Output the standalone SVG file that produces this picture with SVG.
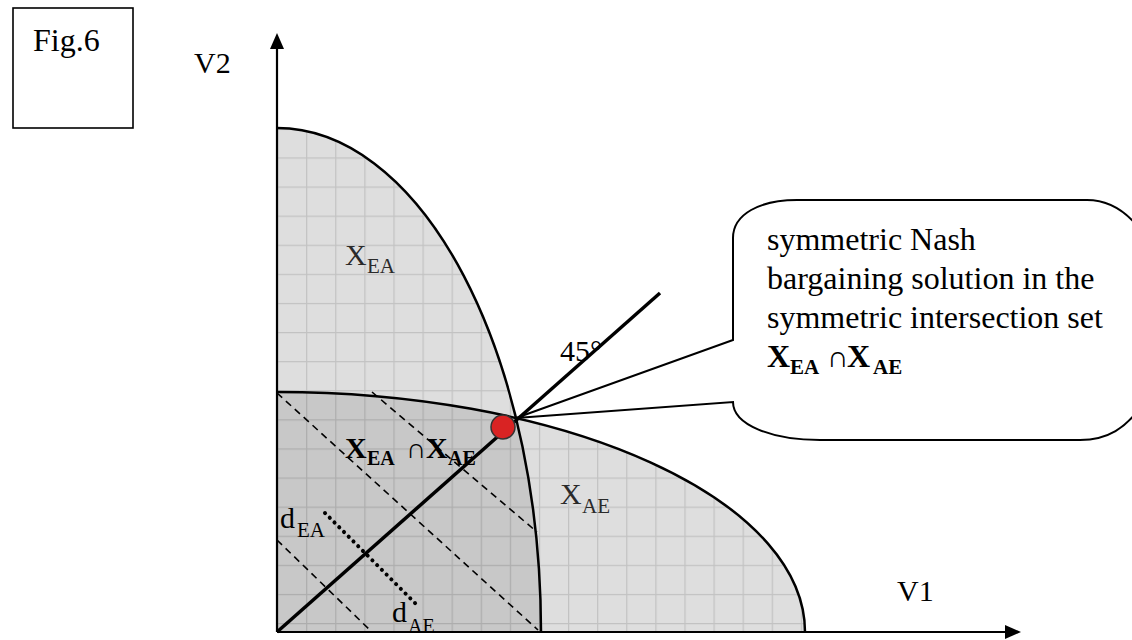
<svg xmlns="http://www.w3.org/2000/svg" width="1132" height="640" viewBox="0 0 1132 640">
<style>
.t{font-family:"Liberation Serif","Times New Roman",serif;fill:#000}
.b{font-weight:bold}
.g{fill:#2a2a2a}
.curve{fill:none;stroke:#000;stroke-width:2.5}
.dash{fill:none;stroke:#000;stroke-width:1.6;stroke-dasharray:7 5}
.dot{fill:none;stroke:#000;stroke-width:4;stroke-linecap:round;stroke-dasharray:0.1 6.6}
.ax{fill:none;stroke:#000;stroke-width:2.2}
</style>
<defs>
<pattern id="gridL" patternUnits="userSpaceOnUse" x="277" y="128.3" width="29.1" height="29.1">
<rect width="29.1" height="29.1" fill="#dedede"/>
<path d="M0,0.6 H29.1 M0.6,0 V29.1" stroke="#c2c2c2" stroke-width="1.2"/>
</pattern>
<pattern id="gridD" patternUnits="userSpaceOnUse" x="277" y="128.3" width="29.1" height="29.1">
<rect width="29.1" height="29.1" fill="#c8c8c8"/>
<path d="M0,0.6 H29.1 M0.6,0 V29.1" stroke="#adadad" stroke-width="1.2"/>
</pattern>
</defs>
<rect width="1132" height="640" fill="#fff"/>

<g id="fig-label">
<rect x="13" y="8" width="120" height="120" fill="#fff" stroke="#000" stroke-width="1.6"/>
<text class="t" x="33" y="51" font-size="32">Fig.6</text>
</g>

<g id="set-XEA">
<path d="M277,632 L277,128 A264,504 0 0 1 541,632 Z" fill="url(#gridL)"/>
</g>
<g id="set-XAE">
<path d="M277,632 L277,392 A528,240 0 0 1 805,632 Z" fill="url(#gridL)"/>
</g>
<g id="set-intersection">
<path d="M277,632 L277,392 A528,240 0 0 1 516,418 A264,504 0 0 1 541,632 Z" fill="url(#gridD)"/>
</g>

<g id="connectors">
<path class="curve" d="M277,128 A264,504 0 0 1 541,632"/>
<path class="curve" d="M277,392 A528,240 0 0 1 805,632"/>
<path class="dash" d="M372,392 L537,532"/>
<path class="dash" d="M277,393 L538,630"/>
<path class="dash" d="M277,540 L372,632"/>
<path class="dot" d="M325,513 L417,605"/>
<path d="M277,632 L660,293" fill="none" stroke="#000" stroke-width="3.5"/>
<path class="ax" d="M277,632 V46"/>
<path d="M277,33 L270,49 L284,49 Z" fill="#000"/>
<path class="ax" d="M277,632 H1007"/>
<path d="M1021,632 L1005,625 L1005,639 Z" fill="#000"/>
</g>

<g id="labels">
<text class="t" x="194" y="73" font-size="30">V2</text>
<text class="t" x="897" y="601" font-size="30">V1</text>
<text class="t g" x="345" y="265" font-size="30">X<tspan x="367" y="273" font-size="21">EA</tspan></text>
<text class="t g" x="560" y="504" font-size="30">X<tspan x="582" y="513" font-size="21">AE</tspan></text>
<text class="t b" x="345" y="458" font-size="30">X<tspan x="367" y="465" font-size="20">EA</tspan><tspan x="406" y="458" font-size="28" font-weight="normal">∩</tspan><tspan x="426" y="458">X</tspan><tspan x="448" y="465" font-size="20">AE</tspan></text>
<text class="t" x="280" y="528" font-size="30">d<tspan x="297" y="537" font-size="21">EA</tspan></text>
<text class="t" x="392" y="622" font-size="30">d<tspan x="408" y="633" font-size="20">AE</tspan></text>
<text class="t" x="560" y="361" font-size="30">45°</text>
</g>

<g id="nash-point">
<circle cx="503" cy="427" r="12" fill="#d92323" stroke="#333" stroke-width="1.5"/>
</g>

<g id="callout">
<path d="M733,238 L733,340 L516,418 L733,402 C733,425 772,440 820,440 L1080,440 C1108,440 1126,428 1142,405 L1142,232 C1126,210 1108,200 1087,200 L797,200 C760,200 733,214 733,238 Z" fill="#fff" stroke="#000" stroke-width="2"/>
<text class="t" font-size="32"><tspan x="767" y="250">symmetric Nash</tspan><tspan x="767" y="289">bargaining solution in the</tspan><tspan x="767" y="328">symmetric intersection set</tspan></text>
<text class="t b" x="767" y="367" font-size="32">X<tspan x="790" y="374" font-size="21">EA</tspan><tspan x="827" y="367" font-size="30" font-weight="normal">∩</tspan><tspan x="847" y="367">X</tspan><tspan x="873" y="374" font-size="21">AE</tspan></text>
</g>
</svg>
